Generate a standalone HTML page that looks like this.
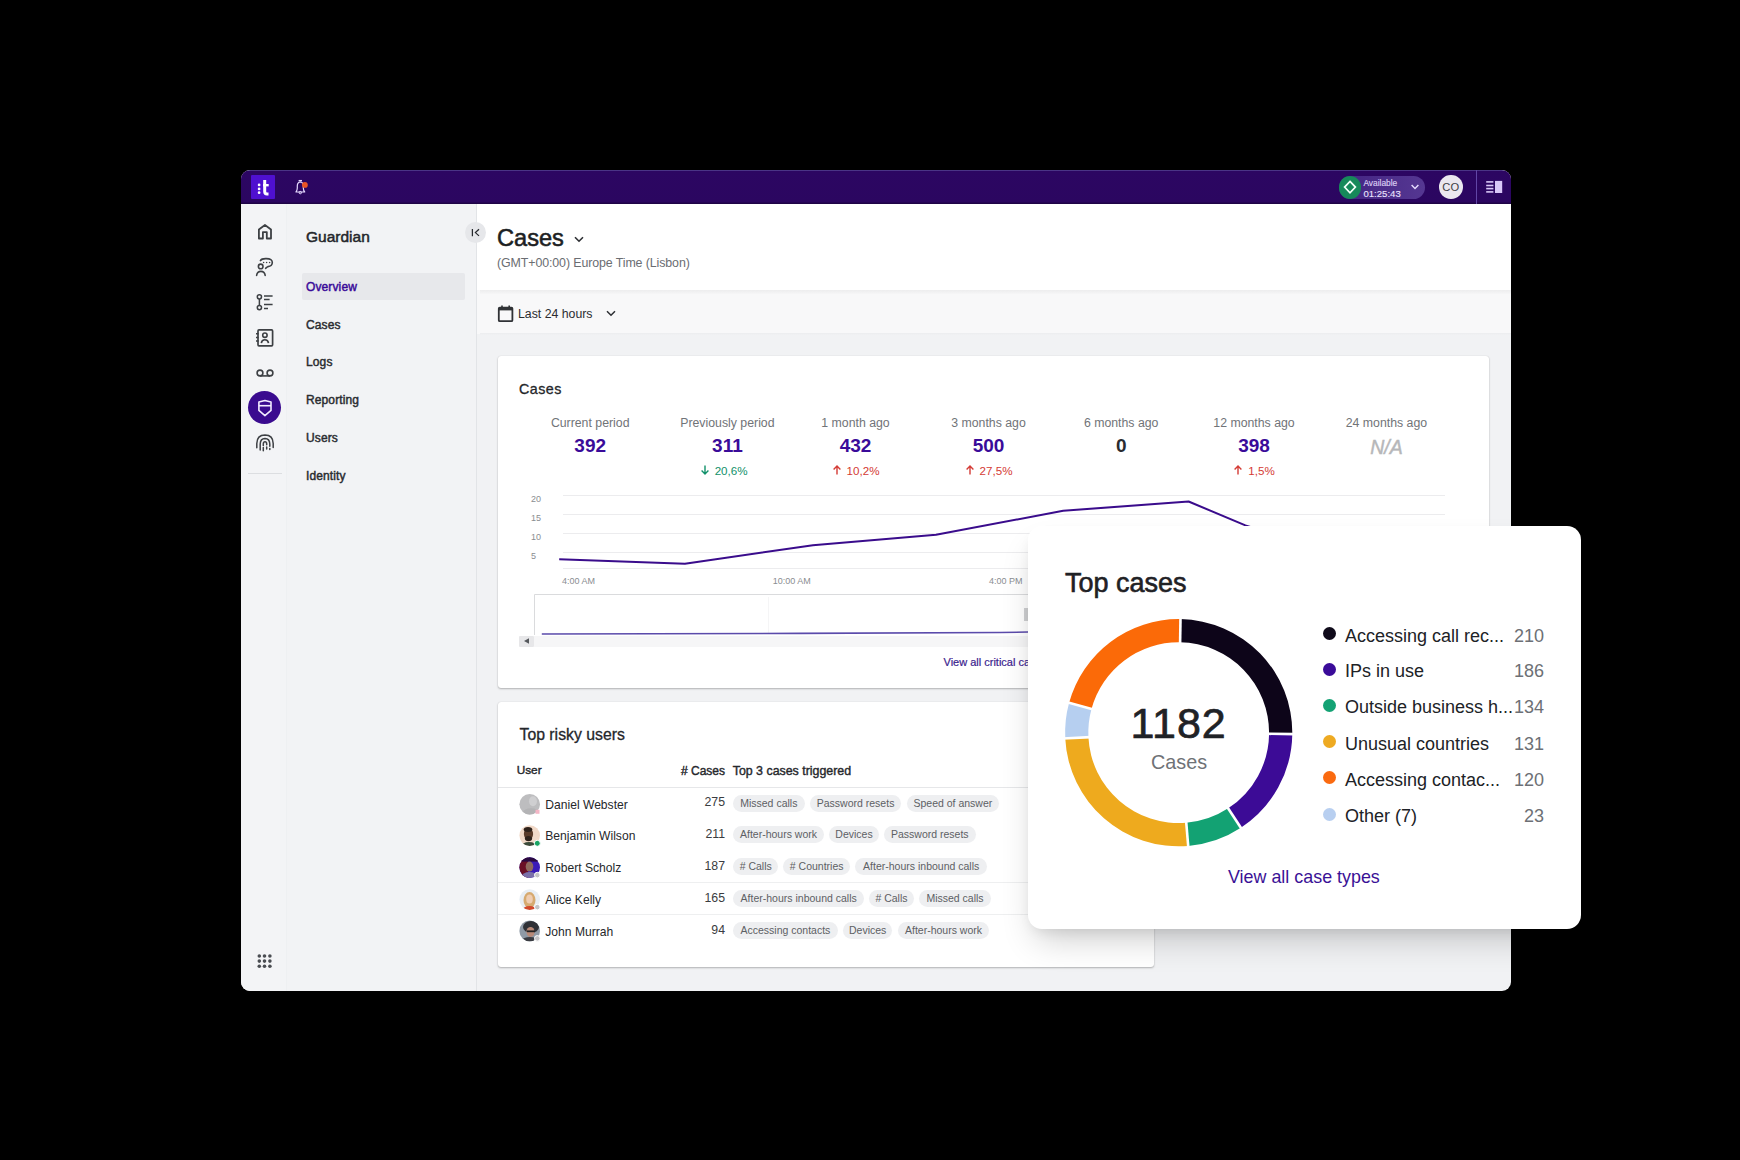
<!DOCTYPE html>
<html><head><meta charset="utf-8">
<style>
*{box-sizing:border-box;margin:0;padding:0}
html,body{width:1740px;height:1160px;background:#000;overflow:hidden;font-family:"Liberation Sans",sans-serif;color:#1f2125}
#win{position:absolute;left:241px;top:170px;width:1270px;height:821px;border-radius:9px;overflow:hidden;background:#f1f2f4}
#topbar{position:absolute;left:0;top:0;width:1270px;height:34px;background:linear-gradient(#4a3486 0,#4a3486 1px,#2c0662 1.5px,#2b0660 32px,#1f0446 33px,#1f0446 34px)}
#rail{position:absolute;left:0;top:34px;width:46px;height:787px;background:#f3f4f6;border-right:1px solid #eef0f2}
#side{position:absolute;left:46px;top:34px;width:190px;height:787px;background:#f2f3f5;border-right:1px solid #e2e4e7}
.t{position:absolute;white-space:nowrap;line-height:1}
.card{position:absolute;background:#fff;border-radius:3px;box-shadow:0 1px 2px rgba(0,0,0,.26),0 0 1px rgba(0,0,0,.16)}
#popup{position:absolute;left:1028px;top:526px;width:553px;height:403px;background:#fff;border-radius:14px;box-shadow:0 18px 34px -8px rgba(0,0,0,.2),0 6px 14px -5px rgba(0,0,0,.1)}
svg{position:absolute;overflow:visible}
.nav{position:absolute;left:65px;font-size:12px;font-weight:normal;color:#2a2c30;-webkit-text-stroke:0.45px currentColor;letter-spacing:0.12px}
.lab{position:absolute;font-size:12.3px;color:#717478;text-align:center;width:140px;line-height:1}
.val{position:absolute;font-size:19px;margin-top:-1.2px;font-weight:bold;color:#3a0b99;text-align:center;width:140px;line-height:1}
.chg{position:absolute;font-size:11.6px;margin-top:1px;text-align:center;width:140px;line-height:1}
.up{color:#d43b35}.down{color:#11916a}
.ax{position:absolute;font-size:9px;color:#8a8d91;line-height:1}
.chip{position:absolute;height:17px;border-radius:9px;background:#eeeff1;color:#5d6064;font-size:10.5px;line-height:17px;padding:0 7px;white-space:nowrap}
.nm{position:absolute;left:545.3px;font-size:12.1px;color:#25272b;line-height:1;white-space:nowrap}
.cnt{position:absolute;font-size:12.3px;color:#3a3c40;line-height:1;text-align:right;width:40px;left:685px}
.av{position:absolute;left:519px;width:21px;height:21px;border-radius:50%}
.lg{position:absolute;left:1345px;font-size:18px;color:#202226;line-height:1;white-space:nowrap}
.lv{position:absolute;right:196px;font-size:18.5px;color:#6d7075;line-height:1;text-align:right}
.dot{position:absolute;left:1323px;width:13px;height:13px;border-radius:50%}
</style></head>
<body>
<div id="win">
  <div id="topbar"></div>
  <div id="rail"></div>
  <div id="side"></div>
</div>

<!-- TOPBAR CONTENT -->
<div style="position:absolute;left:250.8px;top:175.4px;width:24.6px;height:23.2px;border-radius:1px;background:#4f10d0"></div>
<svg style="left:245px;top:172px" width="70" height="30" viewBox="0 0 70 30">
  <circle cx="14.1" cy="12.9" r="1.35" fill="#fff"/><circle cx="14.1" cy="16.9" r="1.35" fill="#fff"/><circle cx="14.1" cy="20.7" r="1.35" fill="#fff"/>
  <path d="M19.7 8 V19.6 Q19.7 22 22 22 H23.5" stroke="#fff" stroke-width="3" fill="none"/>
  <path d="M18 13.2 H23.7" stroke="#fff" stroke-width="2.4" fill="none"/>
  <path d="M51 20 Q52.2 18.6 52.3 16 V13.8 Q52.4 10.3 55.3 9.8 Q58.2 10.3 58.3 13.8 V16 Q58.4 18.6 59.7 20 Z" stroke="#e6d9ff" stroke-width="1.2" fill="none" stroke-linejoin="round"/>
  <path d="M53.6 8.6 H57" stroke="#e6d9ff" stroke-width="1.3"/>
  <circle cx="55.3" cy="20.6" r="1.2" stroke="#e6d9ff" stroke-width="1" fill="none"/>
  <circle cx="59.9" cy="12.9" r="2.9" fill="#ea5526"/>
</svg>
<!-- status pill -->
<div style="position:absolute;left:1338.8px;top:175.7px;width:86.4px;height:23.3px;border-radius:12px;background:linear-gradient(90deg,#432482,#553792)"></div>
<div style="position:absolute;left:1339px;top:176px;width:21.5px;height:22.7px;border-radius:11.5px;background:#16895a"></div>
<svg style="left:1338px;top:176px" width="22" height="23" viewBox="0 0 22 23"><path d="M12 5.4 L17.4 11.1 L12 16.8 L6.6 11.1 Z" stroke="#f2fff8" stroke-width="1.7" fill="none"/></svg>
<div class="t" style="left:1363.4px;top:179.3px;font-size:8.4px;color:#ddd0f4;-webkit-text-stroke:0.15px #ddd0f4">Available</div>
<div class="t" style="left:1363.4px;top:189.1px;font-size:9.6px;color:#ece4ff;-webkit-text-stroke:0.1px #ece4ff">01:25:43</div>
<svg style="left:1410px;top:183px" width="10" height="8" viewBox="0 0 10 8"><path d="M1.6 2 L5 5.6 L8.4 2" stroke="#e6dcff" stroke-width="1.4" fill="none"/></svg>
<div style="position:absolute;left:1439px;top:175.2px;width:23.5px;height:23.8px;border-radius:50%;background:#ebe8ef"></div>
<div class="t" style="left:1439px;top:182.2px;width:23.5px;text-align:center;font-size:11.2px;color:#3f4145">CO</div>
<div style="position:absolute;left:1476.3px;top:170px;width:1px;height:34px;background:#6146a6"></div>
<svg style="left:1485px;top:180px" width="18" height="14" viewBox="0 0 18 14">
  <rect x="1.2" y="1.1" width="7.2" height="1.6" fill="#d9c8f7"/><rect x="1.2" y="4.7" width="7.2" height="1.6" fill="#d9c8f7"/><rect x="1.2" y="7.8" width="7.2" height="1.6" fill="#d9c8f7"/><rect x="1.2" y="11.1" width="7.2" height="1.6" fill="#d9c8f7"/>
  <rect x="10" y="0.9" width="7.2" height="12.1" fill="#d9c8f7"/>
</svg>

<!-- RAIL ICONS -->
<svg style="left:256px;top:223px" width="18" height="18" viewBox="0 0 18 18">
  <path d="M2.9 15.5 V6.4 L8.95 2 L15 6.4 V15.5 H10.8 V9.1 H6.9 V15.5 Z" stroke="#3d4044" stroke-width="1.8" fill="none" stroke-linejoin="round"/>
</svg>
<svg style="left:255px;top:257px" width="20" height="20" viewBox="0 0 20 20">
  <path d="M5.4 3.6 Q6.6 1.5 11 1.6 Q17.6 1.5 17.3 5.8 Q17 9.2 13 9.6 Q11.6 10.4 10.6 11.3" stroke="#3d4044" stroke-width="1.6" fill="none" stroke-linecap="round"/>
  <circle cx="8.6" cy="5.4" r=".75" fill="#3d4044"/><circle cx="11.6" cy="5.4" r=".75" fill="#3d4044"/><circle cx="14.6" cy="5.4" r=".75" fill="#3d4044"/>
  <circle cx="5.7" cy="9.4" r="2.3" stroke="#3d4044" stroke-width="1.6" fill="none"/>
  <path d="M1.6 18.4 Q2.2 14.4 5.9 14.4 Q9.6 14.4 10.2 18.4" stroke="#3d4044" stroke-width="1.6" fill="none" stroke-linecap="round"/>
</svg>
<svg style="left:255px;top:293px" width="19" height="18" viewBox="0 0 19 18">
  <circle cx="4.4" cy="3.8" r="2.1" stroke="#3d4044" stroke-width="1.5" fill="none"/>
  <circle cx="4.4" cy="14.6" r="2.1" stroke="#3d4044" stroke-width="1.5" fill="none"/>
  <path d="M4.4 5.9 V12.5 M9 3 H17.6 M9 6.6 H14.6 M9 11.5 H17.6 M9 15.4 H13" stroke="#3d4044" stroke-width="1.5" fill="none"/>
</svg>
<svg style="left:255px;top:328px" width="19" height="19" viewBox="0 0 19 19">
  <rect x="3" y="1.9" width="14.6" height="15.9" rx="1" stroke="#3d4044" stroke-width="1.7" fill="none"/>
  <path d="M1 5.8 H3.6 M1 9.4 H3.6 M1 13 H3.6" stroke="#3d4044" stroke-width="1.5"/>
  <circle cx="9.9" cy="7.2" r="2.2" stroke="#3d4044" stroke-width="1.6" fill="none"/>
  <path d="M6.3 15.2 Q6.8 11.8 9.9 11.8 Q13 11.8 13.5 15.2" stroke="#3d4044" stroke-width="1.6" fill="none"/>
</svg>
<svg style="left:255px;top:368px" width="20" height="10" viewBox="0 0 20 10">
  <circle cx="5" cy="5" r="2.9" stroke="#3d4044" stroke-width="1.6" fill="none"/>
  <circle cx="15" cy="5" r="2.9" stroke="#3d4044" stroke-width="1.6" fill="none"/>
  <path d="M5 7.9 H15" stroke="#3d4044" stroke-width="1.6"/>
</svg>
<div style="position:absolute;left:248px;top:391px;width:33px;height:33px;border-radius:50%;background:#3a0b8f"></div>
<svg style="left:256px;top:398px" width="18" height="19" viewBox="0 0 18 19">
  <path d="M2.9 4.1 L8.9 2.5 L15 4.1 V12.4 L8.9 17.6 L2.9 12.4 Z" stroke="#f3ecff" stroke-width="1.6" fill="none" stroke-linejoin="round"/>
  <path d="M2.9 7.7 H15" stroke="#f3ecff" stroke-width="1.6"/>
</svg>
<svg style="left:255px;top:433px" width="20" height="19" viewBox="0 0 20 19">
  <path d="M1.8 14.8 V10.5 Q2 2.2 10 2.1 Q18 2.2 18.2 10.5 V14.5" stroke="#3d4044" stroke-width="1.5" fill="none" stroke-linecap="round"/>
  <path d="M5.2 17 V11 Q5.4 5.6 10 5.5 Q14.6 5.6 14.8 11 V13.2" stroke="#3d4044" stroke-width="1.5" fill="none" stroke-linecap="round"/>
  <path d="M8.3 12.6 V10.9 Q8.4 8.8 10 8.8 Q11.6 8.8 11.7 10.9 V11.8" stroke="#3d4044" stroke-width="1.5" fill="none" stroke-linecap="round"/>
  <path d="M8.3 14.6 V17.8 M11.7 14 V16 M14.8 15.4 V16.6" stroke="#3d4044" stroke-width="1.5" fill="none" stroke-linecap="round"/>
</svg>
<div style="position:absolute;left:247.5px;top:473px;width:34px;height:1.2px;background:#dcdee1"></div>
<svg style="left:257px;top:954px" width="16" height="15" viewBox="0 0 16 15">
  <g fill="#4a4d52"><circle cx="2.3" cy="2" r="1.8"/><circle cx="7.5" cy="2" r="1.8"/><circle cx="12.9" cy="2" r="1.8"/>
  <circle cx="2.3" cy="7.1" r="1.8"/><circle cx="7.5" cy="7.1" r="1.8"/><circle cx="12.9" cy="7.1" r="1.8"/>
  <circle cx="2.3" cy="12.3" r="1.8"/><circle cx="7.5" cy="12.3" r="1.8"/><circle cx="12.9" cy="12.3" r="1.8"/></g>
</svg>

<!-- SIDEBAR -->
<div class="t" style="left:306px;top:229px;font-size:15.5px;color:#24262a;-webkit-text-stroke:0.5px #24262a">Guardian</div>
<div style="position:absolute;left:302px;top:273px;width:163px;height:27px;background:#e7e8eb;border-radius:2px"></div>
<div class="t nav" style="left:306px;top:280.5px;color:#3a0b99">Overview</div>
<div class="t nav" style="left:306px;top:318.5px">Cases</div>
<div class="t nav" style="left:306px;top:355.5px">Logs</div>
<div class="t nav" style="left:306px;top:393.5px">Reporting</div>
<div class="t nav" style="left:306px;top:431.5px">Users</div>
<div class="t nav" style="left:306px;top:469.5px">Identity</div>

<!-- MAIN HEADER -->
<div style="position:absolute;left:477px;top:204px;width:1034px;height:87px;background:#fff"></div>
<div style="position:absolute;left:477px;top:290px;width:1034px;height:44px;background:#f8f8f9"></div>
<div style="position:absolute;left:480px;top:290px;width:1031px;height:4px;background:linear-gradient(#ededee,#f6f6f7)"></div>
<div style="position:absolute;left:480px;top:333px;width:1031px;height:2px;background:linear-gradient(#ecedef,#f1f2f4)"></div>
<div class="t" style="left:497px;top:226.5px;font-size:23.6px;color:#1d1f23;-webkit-text-stroke:0.55px #1d1f23">Cases</div>
<svg style="left:573px;top:235px" width="12" height="9" viewBox="0 0 12 9"><path d="M2 2.2 L6 6.2 L10 2.2" stroke="#2d2f33" stroke-width="1.6" fill="none"/></svg>
<div class="t" style="left:497px;top:257px;font-size:12.4px;color:#6a6d72;letter-spacing:-0.1px">(GMT+00:00) Europe Time (Lisbon)</div>
<svg style="left:497px;top:304px" width="18" height="19" viewBox="0 0 18 19">
  <rect x="1.8" y="3.6" width="13.6" height="13.6" rx="1" stroke="#303236" stroke-width="1.8" fill="none"/>
  <rect x="1.8" y="3.6" width="13.6" height="2.8" fill="#303236"/>
  <path d="M5 1.5 V4 M12.2 1.5 V4" stroke="#303236" stroke-width="1.6"/>
</svg>
<div class="t" style="left:518px;top:308px;font-size:12.3px;color:#2b2d31">Last 24 hours</div>
<svg style="left:605px;top:309px" width="12" height="9" viewBox="0 0 12 9"><path d="M2 2.2 L6 6.2 L10 2.2" stroke="#2d2f33" stroke-width="1.5" fill="none"/></svg>

<div style="position:absolute;left:465px;top:222px;width:21px;height:21px;border-radius:50%;background:#e6e7ea"></div>
<svg style="left:470px;top:227px" width="11" height="11" viewBox="0 0 11 11"><path d="M2.4 2 V9.2 M9 2.2 L5.4 5.6 L9 8.9" stroke="#26282c" stroke-width="1.25" fill="none"/></svg>

<!-- CASES CARD -->
<div class="card" style="left:498px;top:356px;width:991px;height:332px"></div>
<div class="t" style="left:519px;top:381.8px;font-size:14.3px;letter-spacing:0.45px;color:#24262a;-webkit-text-stroke:0.3px #24262a">Cases</div>


<!-- STATS -->
<div class="lab" style="left:520.2px;top:416.8px">Current period</div>
<div class="val" style="left:520.2px;top:437.6px;color:#3a0b99;">392</div>
<div class="lab" style="left:657.4px;top:416.8px">Previously period</div>
<div class="val" style="left:657.4px;top:437.6px;color:#3a0b99;">311</div>
<div class="chg down" style="left:653.6px;top:464.3px"><svg style="position:relative;display:inline-block;vertical-align:top;margin-top:-1px;margin-right:5px" width="10" height="11" viewBox="0 0 10 11"><path d="M5 1.5 V10 M1.6 6.6 L5 10 L8.4 6.6" stroke="currentColor" stroke-width="1.4" fill="none"/></svg>20,6%</div>
<div class="lab" style="left:785.5px;top:416.8px">1 month ago</div>
<div class="val" style="left:785.5px;top:437.6px;color:#3a0b99;">432</div>
<div class="chg up" style="left:785.5px;top:464.3px"><svg style="position:relative;display:inline-block;vertical-align:top;margin-top:-1px;margin-right:5px" width="10" height="11" viewBox="0 0 10 11"><path d="M5 10.5 V2 M1.6 5.4 L5 2 L8.4 5.4" stroke="currentColor" stroke-width="1.4" fill="none"/></svg>10,2%</div>
<div class="lab" style="left:918.5px;top:416.8px">3 months ago</div>
<div class="val" style="left:918.5px;top:437.6px;color:#3a0b99;">500</div>
<div class="chg up" style="left:918.5px;top:464.3px"><svg style="position:relative;display:inline-block;vertical-align:top;margin-top:-1px;margin-right:5px" width="10" height="11" viewBox="0 0 10 11"><path d="M5 10.5 V2 M1.6 5.4 L5 2 L8.4 5.4" stroke="currentColor" stroke-width="1.4" fill="none"/></svg>27,5%</div>
<div class="lab" style="left:1051.2px;top:416.8px">6 months ago</div>
<div class="val" style="left:1051.2px;top:437.6px;color:#2a2c30;">0</div>
<div class="lab" style="left:1184.0px;top:416.8px">12 months ago</div>
<div class="val" style="left:1184.0px;top:437.6px;color:#3a0b99;">398</div>
<div class="chg up" style="left:1184.0px;top:464.3px"><svg style="position:relative;display:inline-block;vertical-align:top;margin-top:-1px;margin-right:5px" width="10" height="11" viewBox="0 0 10 11"><path d="M5 10.5 V2 M1.6 5.4 L5 2 L8.4 5.4" stroke="currentColor" stroke-width="1.4" fill="none"/></svg>1,5%</div>
<div class="lab" style="left:1316.4px;top:416.8px">24 months ago</div>
<div class="val" style="left:1316.4px;top:438.7px;color:#b6b7b9;font-style:italic;font-weight:normal;font-size:19.5px;-webkit-text-stroke:0.45px #b6b7b9">N/A</div>


<!-- CHART -->
<div class="ax" style="left:531px;top:494.5px">20</div>
<div class="ax" style="left:531px;top:513.5px">15</div>
<div class="ax" style="left:531px;top:532.5px">10</div>
<div class="ax" style="left:531px;top:551.5px">5</div>
<svg style="left:0;top:0" width="1740" height="1160" viewBox="0 0 1740 1160">
  <g stroke="#ececee" stroke-width="1">
    <path d="M563 495.5 H1445 M563 514.5 H1445 M563 533.5 H1445 M563 552.5 H1445 M563 568.5 H1445"/>
  </g>
  <polyline points="559.2,559.2 684.9,563.7 812.9,545.2 936,534.7 1063.2,510.8 1188.6,501.5 1245.4,525.4 1320,548 1440,552" stroke="#3a0c8c" stroke-width="2" fill="none" stroke-linejoin="round"/>
  <path d="M534.5 635 V594.5 H1445" stroke="#dadbdd" stroke-width="1" fill="none"/>
  <path d="M768.5 597 V633" stroke="#f5f5f6" stroke-width="1"/>
  <polyline points="541.8,634 800,633.4 1000,632.5 1028,632 1440,630" stroke="#5b4bab" stroke-width="1.6" fill="none"/>
</svg>
<div class="ax" style="left:562px;top:577px">4:00 AM</div>
<div class="ax" style="left:772.7px;top:577px">10:00 AM</div>
<div class="ax" style="left:989px;top:577px">4:00 PM</div>
<div style="position:absolute;left:534px;top:636px;width:911px;height:11px;background:#f6f6f7"></div>
<div style="position:absolute;left:519px;top:635.5px;width:15px;height:11.5px;background:#e7e7e9;border-radius:1px"></div>
<svg style="left:522px;top:637px" width="9" height="8" viewBox="0 0 9 8"><path d="M2 4 L7 1.2 V6.8 Z" fill="#55585c"/></svg>
<div style="position:absolute;left:1024px;top:608px;width:4px;height:13px;background:#cfd0d2"></div>
<div class="t" style="left:943.5px;top:656.8px;font-size:11px;color:#3b1e8e;-webkit-text-stroke:0.2px #3b1e8e">View all critical cases</div>

<!-- TOP RISKY USERS CARD -->
<div class="card" style="left:498px;top:702px;width:656px;height:265px"></div>
<div class="t" style="left:519.5px;top:727px;font-size:15.8px;color:#24262a;-webkit-text-stroke:0.3px #24262a">Top risky users</div>


<div class="t" style="left:516.7px;top:764.5px;font-size:11.8px;color:#26282c;-webkit-text-stroke:0.4px #26282c">User</div>
<div class="t" style="left:681px;top:764.5px;font-size:12px;color:#26282c;-webkit-text-stroke:0.4px #26282c;width:44px;text-align:right">#&nbsp;Cases</div>
<div class="t" style="left:732.7px;top:764.5px;font-size:12.4px;color:#26282c;-webkit-text-stroke:0.4px #26282c">Top 3 cases triggered</div>
<div style="position:absolute;left:498px;top:787px;width:530px;height:1px;background:#e6e7e9"></div>
<div style="position:absolute;left:498px;top:882px;width:530px;height:1px;background:#eeeff0"></div>
<div style="position:absolute;left:498px;top:914px;width:530px;height:1px;background:#eeeff0"></div>
<div class="nm" style="top:798.8px">Daniel Webster</div>
<div class="cnt" style="top:796.3px">275</div>
<div class="chip" style="left:733.0px;top:794.7px;width:71.6px;text-align:center;padding:0">Missed calls</div>
<div class="chip" style="left:809.7px;top:794.7px;width:91.8px;text-align:center;padding:0">Password resets</div>
<div class="chip" style="left:907.0px;top:794.7px;width:91.8px;text-align:center;padding:0">Speed of answer</div>
<div class="nm" style="top:830.2px">Benjamin Wilson</div>
<div class="cnt" style="top:827.7px">211</div>
<div class="chip" style="left:733.0px;top:826.1px;width:91.0px;text-align:center;padding:0">After-hours work</div>
<div class="chip" style="left:829.2px;top:826.1px;width:49.6px;text-align:center;padding:0">Devices</div>
<div class="chip" style="left:883.9px;top:826.1px;width:91.8px;text-align:center;padding:0">Password resets</div>
<div class="nm" style="top:862.0px">Robert Scholz</div>
<div class="cnt" style="top:859.5px">187</div>
<div class="chip" style="left:733.0px;top:857.9px;width:45.4px;text-align:center;padding:0"># Calls</div>
<div class="chip" style="left:783.0px;top:857.9px;width:67.3px;text-align:center;padding:0"># Countries</div>
<div class="chip" style="left:855.4px;top:857.9px;width:131.6px;text-align:center;padding:0">After-hours inbound calls</div>
<div class="nm" style="top:894.0px">Alice Kelly</div>
<div class="cnt" style="top:891.5px">165</div>
<div class="chip" style="left:733.0px;top:889.9px;width:131.4px;text-align:center;padding:0">After-hours inbound calls</div>
<div class="chip" style="left:869.0px;top:889.9px;width:45.0px;text-align:center;padding:0"># Calls</div>
<div class="chip" style="left:919.0px;top:889.9px;width:72.0px;text-align:center;padding:0">Missed calls</div>
<div class="nm" style="top:926.0px">John Murrah</div>
<div class="cnt" style="top:923.5px">94</div>
<div class="chip" style="left:733.0px;top:921.9px;width:104.8px;text-align:center;padding:0">Accessing contacts</div>
<div class="chip" style="left:842.9px;top:921.9px;width:49.6px;text-align:center;padding:0">Devices</div>
<div class="chip" style="left:897.6px;top:921.9px;width:91.8px;text-align:center;padding:0">After-hours work</div>

<svg style="left:0;top:0" width="1740" height="1160" viewBox="0 0 1740 1160">
<defs><clipPath id="ac0"><circle cx="529.7" cy="804.3" r="10.3"/></clipPath><clipPath id="ac1"><circle cx="529.7" cy="835.6" r="10.3"/></clipPath><clipPath id="ac2"><circle cx="529.7" cy="867.6" r="10.3"/></clipPath><clipPath id="ac3"><circle cx="529.7" cy="899.6" r="10.3"/></clipPath><clipPath id="ac4"><circle cx="529.7" cy="930.9" r="10.3"/></clipPath></defs>
<g clip-path="url(#ac0)"><rect x="519" y="793.3" width="22" height="22" fill="#bdbdbf"/>
<ellipse cx="533" cy="801.3" rx="4" ry="5" fill="#cfcfd1"/><ellipse cx="531" cy="812.3" rx="8" ry="4" fill="#b3b3b5"/></g>
<rect x="535.5" y="809.8" width="4" height="4" fill="#f4b6c6"/>
<g clip-path="url(#ac1)"><rect x="519" y="824.6" width="22" height="22" fill="#f1d9c8"/>
<ellipse cx="528.5" cy="834.1" rx="4.6" ry="6.2" fill="#5a3a28"/><ellipse cx="528" cy="829.6" rx="4.3" ry="2.5" fill="#2e211a"/>
<ellipse cx="528.5" cy="838.6" rx="3.6" ry="2.6" fill="#2e211a"/><ellipse cx="529" cy="846.6" rx="8" ry="4.5" fill="#3b4a3a"/></g>
<circle cx="537.3" cy="843.3000000000001" r="3" fill="#19a463" stroke="#fff" stroke-width="1"/>
<g clip-path="url(#ac2)"><rect x="519" y="856.6" width="22" height="22" fill="#3a1bb8"/>
<rect x="519" y="856.6" width="9" height="22" fill="#6a1026"/><rect x="519" y="856.6" width="22" height="5" fill="#2a0a40"/>
<ellipse cx="529.5" cy="866.6" rx="3.8" ry="5" fill="#8e6a5e"/><ellipse cx="529.5" cy="877.1" rx="8" ry="5" fill="#7a70a8"/></g>
<circle cx="537.3" cy="875.1" r="2.8" fill="#c4c4c6" stroke="#fff" stroke-width="1"/>
<g clip-path="url(#ac3)"><rect x="519" y="888.6" width="22" height="22" fill="#e8eef4"/>
<ellipse cx="529.5" cy="900.1" rx="6" ry="8" fill="#d6aa70"/><ellipse cx="529.5" cy="899.1" rx="3.3" ry="4.5" fill="#efcdb2"/>
<ellipse cx="529.5" cy="909.6" rx="7" ry="3.5" fill="#d2482a"/></g>
<circle cx="537.3" cy="907.1" r="2.8" fill="#c4c4c6" stroke="#fff" stroke-width="1"/>
<g clip-path="url(#ac4)"><rect x="519" y="919.9" width="22" height="22" fill="#8f9aa6"/>
<ellipse cx="531" cy="926.9" rx="8" ry="6" fill="#2f3136"/><ellipse cx="530.5" cy="931.9" rx="4" ry="5" fill="#b88a78"/>
<rect x="527" y="930.4" width="8" height="1.8" fill="#222"/><ellipse cx="530" cy="940.9" rx="8" ry="4" fill="#3a3c42"/></g>
<circle cx="537.3" cy="938.4" r="2.8" fill="#c4c4c6" stroke="#fff" stroke-width="1"/>
</svg>
<!-- POPUP -->
<div id="popup"></div>
<div class="t" style="left:1065px;top:569.8px;font-size:27px;color:#1f2125;-webkit-text-stroke:0.6px #1f2125">Top cases</div>

<svg style="left:0;top:0" width="1740" height="1160" viewBox="0 0 1740 1160" id="donut"><path d="M1180.48 619.11 A113.6 113.6 0 0 1 1292.29 734.09 L1269.09 733.80 A90.4 90.4 0 0 0 1180.12 642.31 Z" fill="#0d0519"/><path d="M1292.29 734.09 A113.6 113.6 0 0 1 1240.90 827.76 L1228.20 808.34 A90.4 90.4 0 0 0 1269.09 733.80 Z" fill="#3c0b96"/><path d="M1240.90 827.76 A113.6 113.6 0 0 1 1188.21 845.90 L1186.26 822.78 A90.4 90.4 0 0 0 1228.20 808.34 Z" fill="#13a273"/><path d="M1188.21 845.90 A113.6 113.6 0 0 1 1065.25 738.45 L1088.42 737.27 A90.4 90.4 0 0 0 1186.26 822.78 Z" fill="#eeaa1e"/><path d="M1065.25 738.45 A113.6 113.6 0 0 1 1069.10 702.82 L1091.48 708.92 A90.4 90.4 0 0 0 1088.42 737.27 Z" fill="#b6cff0"/><path d="M1069.10 702.82 A113.6 113.6 0 0 1 1180.48 619.11 L1180.12 642.31 A90.4 90.4 0 0 0 1091.48 708.92 Z" fill="#fb6a08"/><path d="M1180.09 644.31 L1180.52 617.11" stroke="#fff" stroke-width="2.6"/><path d="M1267.09 733.78 L1294.29 734.11" stroke="#fff" stroke-width="2.6"/><path d="M1227.10 806.67 L1242.00 829.43" stroke="#fff" stroke-width="2.6"/><path d="M1186.10 820.79 L1188.37 847.89" stroke="#fff" stroke-width="2.6"/><path d="M1090.41 737.17 L1063.25 738.55" stroke="#fff" stroke-width="2.6"/><path d="M1093.41 709.45 L1067.17 702.29" stroke="#fff" stroke-width="2.6"/></svg>
<div class="t" style="left:1130.5px;top:701.8px;font-size:43px;letter-spacing:0.9px;color:#1f2226;-webkit-text-stroke:0.7px #1f2226">1182</div>
<div class="t" style="left:1151px;top:753.2px;font-size:19.8px;color:#6f7276">Cases</div>
<div class="dot" style="top:627.4px;background:#0f0a1a"></div>
<div class="lg" style="top:626.8px">Accessing call rec...</div>
<div class="t" style="left:1495px;width:49px;text-align:right;top:626.8px;font-size:18px;color:#6d7075">210</div>
<div class="dot" style="top:663.0px;background:#3a0b99"></div>
<div class="lg" style="top:662.4px">IPs in use</div>
<div class="t" style="left:1495px;width:49px;text-align:right;top:662.4px;font-size:18px;color:#6d7075">186</div>
<div class="dot" style="top:698.9px;background:#14a274"></div>
<div class="lg" style="top:698.3px">Outside business h...</div>
<div class="t" style="left:1495px;width:49px;text-align:right;top:698.3px;font-size:18px;color:#6d7075">134</div>
<div class="dot" style="top:735.1px;background:#eeaa22"></div>
<div class="lg" style="top:734.5px">Unusual countries</div>
<div class="t" style="left:1495px;width:49px;text-align:right;top:734.5px;font-size:18px;color:#6d7075">131</div>
<div class="dot" style="top:771.2px;background:#fa6a10"></div>
<div class="lg" style="top:770.6px">Accessing contac...</div>
<div class="t" style="left:1495px;width:49px;text-align:right;top:770.6px;font-size:18px;color:#6d7075">120</div>
<div class="dot" style="top:807.7px;background:#b8cff0"></div>
<div class="lg" style="top:807.1px">Other (7)</div>
<div class="t" style="left:1495px;width:49px;text-align:right;top:807.1px;font-size:18px;color:#6d7075">23</div>
<div class="t" style="left:1228px;top:869px;font-size:17.9px;color:#3a1196">View all case types</div>
</body></html>
